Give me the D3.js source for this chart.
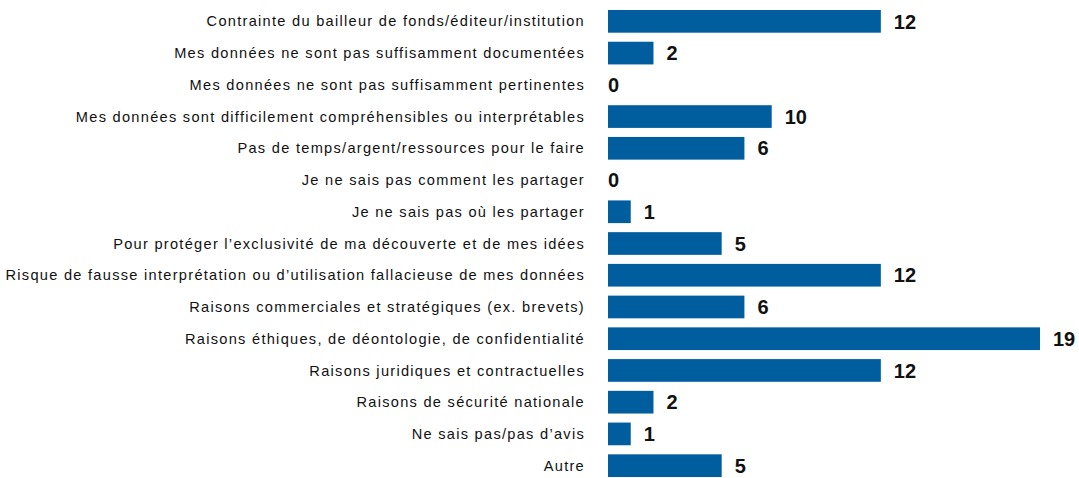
<!DOCTYPE html>
<head>
  <meta charset="utf-8">
  <script src="https://d3js.org/d3.v7.min.js"></script>
  <style>
    body { margin: 0; background: #fff; }
    .cat { font-family: 'Liberation Sans', Arial, sans-serif; font-size: 14.6px; letter-spacing: 1.28px; fill: #111; }
    .val { font-family: 'Liberation Sans', Arial, sans-serif; font-size: 20px; font-weight: bold; fill: #111; }
  </style>
</head>
<body>
  <div id="chart"></div>
  <script>
    var categories = [
      "Contrainte du bailleur de fonds/éditeur/institution",
      "Mes données ne sont pas suffisamment documentées",
      "Mes données ne sont pas suffisamment pertinentes",
      "Mes données sont difficilement compréhensibles ou interprétables",
      "Pas de temps/argent/ressources pour le faire",
      "Je ne sais pas comment les partager",
      "Je ne sais pas où les partager",
      "Pour protéger l’exclusivité de ma découverte et de mes idées",
      "Risque de fausse interprétation ou d’utilisation fallacieuse de mes données",
      "Raisons commerciales et stratégiques (ex. brevets)",
      "Raisons éthiques, de déontologie, de confidentialité",
      "Raisons juridiques et contractuelles",
      "Raisons de sécurité nationale",
      "Ne sais pas/pas d’avis",
      "Autre"
    ];
    // bar lengths as drawn in the source (the "10" bar is drawn shorter than its label)
    var values = [12, 2, 0, 7.2, 6, 0, 1, 5, 12, 6, 19, 12, 2, 1, 5];
    var labels = ["12", "2", "0", "10", "6", "0", "1", "5", "12", "6", "19", "12", "2", "1", "5"];

    var w = 1079, h = 478;
    var left = 608;

    var x = d3.scaleLinear()
      .domain([0, 19])
      .range([left, 1040]);

    var y = d3.scaleBand()
      .domain(categories)
      .range([10, 477])
      .paddingInner(0.285)
      .paddingOuter(0);

    var svg = d3.select("#chart")
      .append("svg")
      .attr("width", w)
      .attr("height", h);

    var rows = svg.selectAll("g.row")
      .data(categories)
      .enter()
      .append("g")
      .attr("class", "row");

    rows.append("rect")
      .attr("x", x(0))
      .attr("y", function (d) { return y(d); })
      .attr("width", function (d, i) { return x(values[i]) - x(0); })
      .attr("height", y.bandwidth())
      .attr("fill", "#005e9e");

    rows.append("text")
      .attr("class", "cat")
      .attr("x", left - 23)
      .attr("y", function (d) { return y(d) + y.bandwidth() / 2; })
      .attr("dy", "0.35em")
      .attr("text-anchor", "end")
      .text(function (d) { return d; });

    rows.append("text")
      .attr("class", "val")
      .attr("x", function (d, i) { return values[i] > 0 ? x(values[i]) + 13 : x(0); })
      .attr("y", function (d) { return y(d) + y.bandwidth() / 2; })
      .attr("dy", "0.36em")
      .text(function (d, i) { return labels[i]; });
  </script>
</body>
</html>
